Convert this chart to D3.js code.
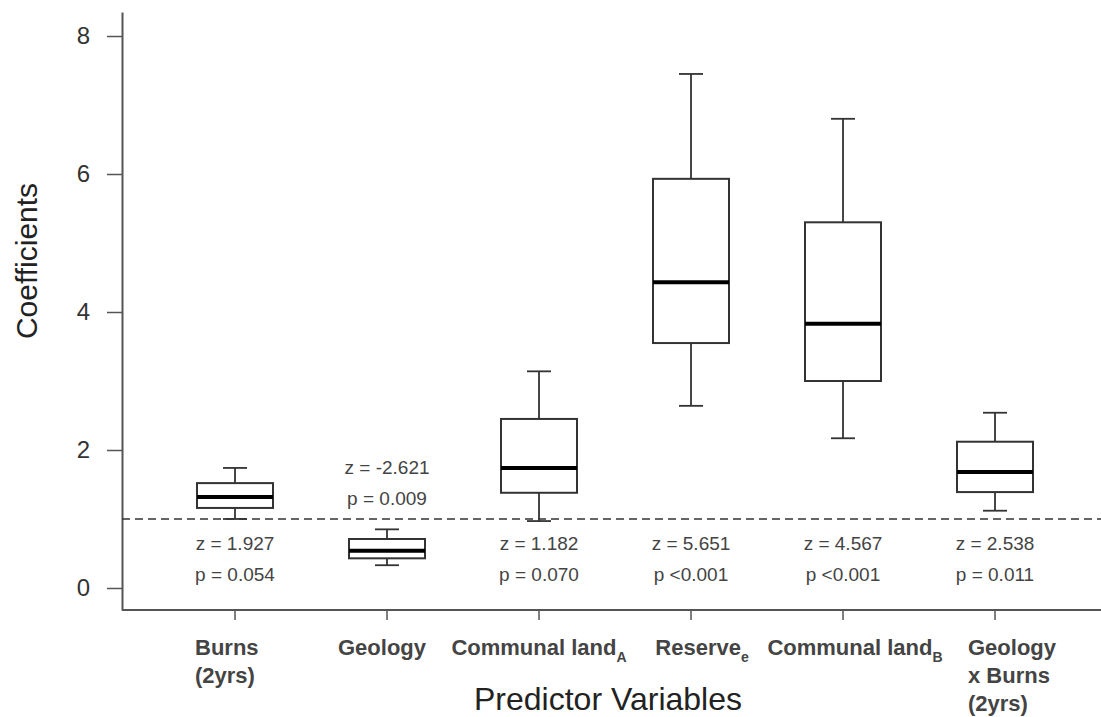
<!DOCTYPE html>
<html>
<head>
<meta charset="utf-8">
<script src="https://cdn.jsdelivr.net/npm/d3@7"></script>
<style>
  body { margin: 0; background: #fff; }
  svg { display: block; }
  text { font-family: "Liberation Sans", Arial, sans-serif; }
</style>
</head>
<body>
<div id="chart"></div>
<script>
// data
const categories = ["Burns (2yrs)", "Geology", "Communal landA", "Reservee", "Communal landB", "Geology x Burns (2yrs)"];
const labelLines = [["Burns", "(2yrs)"], ["Geology"], ["Communal land"], ["Reserve"], ["Communal land"], ["Geology", "x Burns", "(2yrs)"]];
const labelSubs = ["", "", "A", "e", "B", ""];
const lowerWhisker = [1.00, 0.33, 0.97, 2.64, 2.17, 1.12];
const q1 = [1.16, 0.43, 1.38, 3.55, 3.00, 1.39];
const median = [1.32, 0.54, 1.74, 4.43, 3.83, 1.68];
const q3 = [1.52, 0.71, 2.45, 5.93, 5.30, 2.12];
const upperWhisker = [1.74, 0.85, 3.14, 7.45, 6.80, 2.54];
const zText = ["z = 1.927", "z = -2.621", "z = 1.182", "z = 5.651", "z = 4.567", "z = 2.538"];
const pText = ["p = 0.054", "p = 0.009", "p = 0.070", "p <0.001", "p <0.001", "p = 0.011"];
const yTicks = [0, 2, 4, 6, 8];
const refLine = 1;

const width = 1101, height = 717;
const svg = d3.select("#chart").append("svg")
  .attr("width", width).attr("height", height)
  .attr("viewBox", `0 0 ${width} ${height}`);

svg.append("rect").attr("width", width).attr("height", height).attr("fill", "#fff");

// scales
const x = d3.scalePoint().domain(categories).range([235, 995]);
const y = d3.scaleLinear().domain([-0.319, 8.348]).range([610, 12]);

const axisColor = "#555";
const textColor = "#333";

// y axis
const yAxis = svg.append("g")
  .attr("transform", "translate(122,0)")
  .call(d3.axisLeft(y).tickValues(yTicks).tickSize(15).tickSizeOuter(0).tickPadding(17));
yAxis.select(".domain").attr("stroke", axisColor).attr("stroke-width", 2);
yAxis.selectAll(".tick line").attr("stroke", axisColor).attr("stroke-width", 1.5);
yAxis.selectAll(".tick text")
  .attr("fill", textColor)
  .style("font-size", "24px");

// x axis line and ticks
const xAxis = svg.append("g")
  .attr("transform", "translate(0,610)");
xAxis.append("line")
  .attr("x1", 122).attr("x2", width)
  .attr("stroke", axisColor).attr("stroke-width", 2);
xAxis.selectAll(".xtick")
  .data(categories)
  .enter()
  .append("line")
  .attr("class", "xtick")
  .attr("x1", d => x(d)).attr("x2", d => x(d))
  .attr("y1", 0).attr("y2", 10)
  .attr("stroke", axisColor).attr("stroke-width", 1.5);

// category labels (multi line labels are left aligned blocks like the original)
const labelDx = [-40, -5, 0, 11, 12, -27];
categories.forEach((c, i) => {
  const lines = labelLines[i];
  const multi = lines.length > 1;
  const t = svg.append("text")
    .attr("x", x(c) + labelDx[i])
    .attr("y", 655)
    .attr("text-anchor", multi ? "start" : "middle")
    .attr("fill", "#444")
    .style("font-size", "22px")
    .style("font-weight", "bold");
  lines.forEach((line, j) => {
    t.append("tspan")
      .attr("x", x(c) + labelDx[i])
      .attr("dy", j === 0 ? 0 : 28)
      .text(line);
  });
  if (labelSubs[i]) {
    t.append("tspan")
      .attr("dy", 7)
      .style("font-size", "14px")
      .text(labelSubs[i]);
  }
});

// reference line
svg.append("line")
  .attr("x1", 122).attr("x2", width)
  .attr("y1", y(refLine)).attr("y2", y(refLine))
  .attr("stroke", "#333").attr("stroke-width", 1.6)
  .attr("stroke-dasharray", "8,5");

// boxplots
const boxW = 76, capW = 24;
const boxes = svg.append("g");
categories.forEach((c, i) => {
  const cx = x(c);
  const g = boxes.append("g").attr("stroke", "#333").attr("fill", "none");
  // whiskers
  g.append("line").attr("x1", cx).attr("x2", cx)
    .attr("y1", y(q3[i])).attr("y2", y(upperWhisker[i])).attr("stroke-width", 1.8);
  g.append("line").attr("x1", cx).attr("x2", cx)
    .attr("y1", y(q1[i])).attr("y2", y(lowerWhisker[i])).attr("stroke-width", 1.8);
  g.append("line").attr("x1", cx - capW / 2).attr("x2", cx + capW / 2)
    .attr("y1", y(upperWhisker[i])).attr("y2", y(upperWhisker[i])).attr("stroke-width", 1.8);
  g.append("line").attr("x1", cx - capW / 2).attr("x2", cx + capW / 2)
    .attr("y1", y(lowerWhisker[i])).attr("y2", y(lowerWhisker[i])).attr("stroke-width", 1.8);
  // box
  g.append("rect")
    .attr("x", cx - boxW / 2).attr("width", boxW)
    .attr("y", y(q3[i])).attr("height", y(q1[i]) - y(q3[i]))
    .attr("fill", "#fff").attr("stroke-width", 2);
  // median
  g.append("line").attr("x1", cx - boxW / 2).attr("x2", cx + boxW / 2)
    .attr("y1", y(median[i])).attr("y2", y(median[i]))
    .attr("stroke", "#000").attr("stroke-width", 4);
});

// z / p annotations: below the reference line, or above it when the box lies below it
const ann = svg.append("g")
  .attr("text-anchor", "middle")
  .attr("fill", "#444")
  .style("font-size", "19px");
categories.forEach((c, i) => {
  const above = q3[i] < refLine;
  const zy = above ? y(refLine) - 45 : y(refLine) + 31;
  ann.append("text").attr("x", x(c)).attr("y", zy).text(zText[i]);
  ann.append("text").attr("x", x(c)).attr("y", zy + 31).text(pText[i]);
});

// axis titles
svg.append("text")
  .attr("transform", "translate(37,261) rotate(-90)")
  .attr("text-anchor", "middle")
  .attr("fill", "#222")
  .style("font-size", "30px")
  .text("Coefficients");

svg.append("text")
  .attr("x", 608).attr("y", 710)
  .attr("text-anchor", "middle")
  .attr("fill", "#222")
  .style("font-size", "32px")
  .text("Predictor Variables");
</script>
</body>
</html>
